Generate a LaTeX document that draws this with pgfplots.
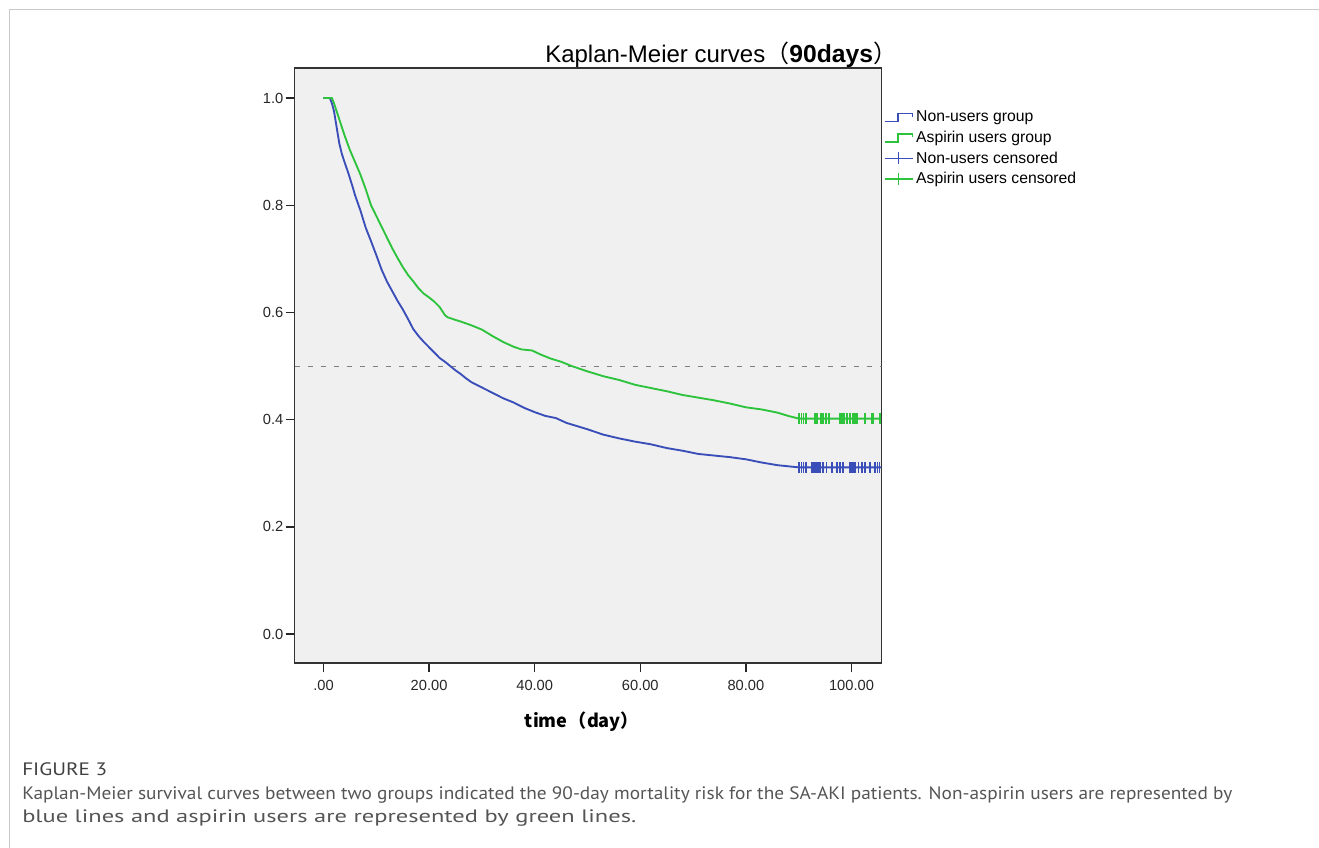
\documentclass[border=0pt]{standalone}
\usepackage{fontspec}
\setmainfont{Liberation Sans}
\newfontfamily\cjk{Noto Sans CJK SC}
\newfontfamily\capfont{PT Sans}
\usepackage{graphicx}
\usepackage{pgfplots}
\pgfplotsset{compat=1.18}
\definecolor{kmblue}{RGB}{58,78,185}
\definecolor{kmgreen}{RGB}{45,195,60}
\definecolor{plotbg}{RGB}{240,240,240}
\definecolor{framegray}{RGB}{200,200,200}
\definecolor{capgray}{RGB}{85,85,85}
\definecolor{dashgray}{RGB}{128,128,128}

\pgfplotstableread{
t S
0 1.0
1.2 1.0
1.6 0.99
2.0 0.975
2.5 0.945
3.0 0.915
3.5 0.895
4.0 0.88
4.7 0.86
5.5 0.835
6.0 0.818
7.0 0.79
8.0 0.758
9.0 0.733
10.0 0.707
11.0 0.68
12.0 0.658
13.0 0.64
14.0 0.622
15.0 0.606
16.0 0.588
17.0 0.569
18.0 0.556
19.0 0.545
20.0 0.535
21.0 0.525
22.0 0.515
23.0 0.508
24.0 0.5
25.0 0.492
26.0 0.485
27.0 0.477
28.0 0.47
30.0 0.46
32.0 0.45
34.0 0.44
36.0 0.432
38.0 0.422
40.0 0.414
42.0 0.407
44.0 0.403
46.0 0.394
48.0 0.388
50.0 0.382
53.0 0.372
56.0 0.365
59.0 0.359
62.0 0.354
65.0 0.347
68.0 0.342
71.0 0.336
74.0 0.333
77.0 0.33
80.0 0.326
83.0 0.32
86.0 0.315
88.0 0.313
90.0 0.311
105.6 0.311
}\nonusers

\pgfplotstableread{
t S
0 1.0
1.6 1.0
2.0 0.99
3.0 0.96
4.0 0.93
5.0 0.903
6.0 0.88
7.0 0.857
8.0 0.83
9.0 0.80
10.0 0.78
11.0 0.76
12.0 0.74
13.0 0.72
14.0 0.702
15.0 0.685
16.0 0.67
17.0 0.658
18.0 0.645
19.0 0.635
20.0 0.628
21.0 0.62
22.0 0.61
23.0 0.595
23.5 0.591
25.0 0.586
26.0 0.583
28.0 0.576
30.0 0.568
32.0 0.556
34.0 0.545
36.0 0.536
37.5 0.531
39.5 0.529
41.0 0.522
43.0 0.514
45.0 0.508
47.0 0.50
50.0 0.49
53.0 0.481
56.0 0.474
59.0 0.465
62.0 0.459
65.0 0.453
68.0 0.446
71.0 0.441
74.0 0.436
77.0 0.43
80.0 0.423
83.0 0.419
86.0 0.413
88.0 0.407
90.0 0.402
105.6 0.402
}\aspirin

\pgfplotstableread{
t S
90.1 0.311
90.5 0.311
90.9 0.311
91.4 0.311
92.5 0.311
92.9 0.311
93.3 0.311
93.7 0.311
94.0 0.311
94.6 0.311
95.3 0.311
96.3 0.311
97.2 0.311
97.8 0.311
98.4 0.311
99.7 0.311
100.0 0.311
100.3 0.311
100.7 0.311
101.3 0.311
102.0 0.311
102.6 0.311
103.5 0.311
104.5 0.311
104.9 0.311
105.3 0.311
}\nonuserscens

\pgfplotstableread{
t S
90.1 0.402
90.5 0.402
90.9 0.402
91.4 0.402
93.1 0.402
93.5 0.402
94.2 0.402
94.6 0.402
95.2 0.402
95.7 0.402
97.8 0.402
98.2 0.402
98.6 0.402
99.2 0.402
99.7 0.402
100.3 0.402
100.7 0.402
101.0 0.402
102.6 0.402
103.9 0.402
104.1 0.402
105.4 0.402
}\aspirincens

\newlength\capw
\newcommand\capone{Kaplan-Meier survival curves between two groups indicated the 90-day mortality risk for the SA-AKI patients. Non-aspirin users are represented by}
\newcommand\captwo{blue lines and aspirin users are represented by green lines.}
\newcommand\capsize{\capfont\fontsize{13.5}{16}\selectfont}

\begin{document}
\settowidth\capw{\capsize\capone}%
\pgfmathsetmacro\capf{907.5/\capw}%
\begin{tikzpicture}
\path[use as bounding box] (0,0) rectangle (989.25pt,-636pt);
\draw[framegray, line width=1.1pt] (7.1pt,-640pt) -- (7.1pt,-7.1pt) -- (995pt,-7.1pt);
\begin{axis}[
  at={(220.95pt,-497.25pt)}, anchor=south west,
  scale only axis, width=440.25pt, height=446.25pt,
  xmin=-5.47, xmax=105.7, ymin=-0.054, ymax=1.056,
  axis background/.style={fill=plotbg},
  axis line style={line width=1.1pt, draw=black!80},
  xtick={0,20,40,60,80,100},
  xticklabels={.00,20.00,40.00,60.00,80.00,100.00},
  ytick={0,0.2,0.4,0.6,0.8,1.0},
  yticklabels={0.0,0.2,0.4,0.6,0.8,1.0},
  tick align=outside, tick pos=left, major tick length=6.75pt,
  tick style={line width=1pt, black!85},
  ticklabel style={font=\fontsize{11}{13}\selectfont, text=black!85},
  yticklabel style={inner xsep=1.5pt},
  xticklabel style={yshift=-3pt},
  /pgf/number format/assume math mode=true,
  legend style={at={(0.997,0.937)}, anchor=north west, draw=none, fill=none,
    font=\fontsize{11.8}{13}\selectfont, row sep=1.4pt},
  legend cell align=left,
]
\addplot[forget plot, dashgray, line width=0.8pt, dash pattern=on 3.75pt off 6pt]
  coordinates {(-5.47,0.5) (105.7,0.5)};
\addplot[kmblue, line width=1.4pt,
  legend image code/.code={\draw[draw=kmblue, line width=1.05pt] (0pt,-3.2pt) -- (9.75pt,-3.2pt) -- (9.75pt,3pt) -- (20.8pt,3pt) -- (20.8pt,0.3pt);}]
  table[x=t, y=S] {\nonusers};
\addlegendentry{Non-users group}
\addplot[kmgreen, line width=1.4pt,
  legend image code/.code={\draw[draw=kmgreen, line width=1.05pt] (0pt,-3.2pt) -- (9.75pt,-3.2pt) -- (9.75pt,3pt) -- (20.8pt,3pt) -- (20.8pt,0.3pt);}]
  table[x=t, y=S] {\aspirin};
\addlegendentry{Aspirin users group}
\addplot[kmblue, only marks, mark=|, mark size=4pt, mark options={line width=1.2pt},
  legend image code/.code={\draw[draw=kmblue, line width=1pt] (0pt,0pt) -- (21pt,0pt); \draw[draw=kmblue, line width=1pt] (10.5pt,-4.5pt) -- (10.5pt,4.5pt);}]
  table[x=t, y=S] {\nonuserscens};
\addlegendentry{Non-users censored}
\addplot[kmgreen, only marks, mark=|, mark size=4pt, mark options={line width=1.2pt},
  legend image code/.code={\draw[draw=kmgreen, line width=1pt] (0pt,0pt) -- (21pt,0pt); \draw[draw=kmgreen, line width=1pt] (10.5pt,-4.5pt) -- (10.5pt,4.5pt);}]
  table[x=t, y=S] {\aspirincens};
\addlegendentry{Aspirin users censored}
\end{axis}
\begin{scope}[x=0.75pt, y=-0.75pt]
\node[anchor=base west, inner sep=0pt] at (545,63)
  {\fontsize{18}{20}\selectfont Kaplan-Meier curves{\cjk （}{\fontsize{18.5}{20}\selectfont\bfseries 90days}{\cjk ）}};
\node[anchor=base, inner sep=0pt] at (582,727)
  {\cjk\bfseries\fontsize{13.6}{15}\selectfont time\hspace{1pt}（day）};
\node[anchor=base west, inner sep=0pt, text=black!75] at (22,775)
  {\resizebox{63.75pt}{\height}{\capfont\fontsize{13.5}{16}\selectfont FIGURE 3}};
\node[anchor=base west, inner sep=0pt, text=capgray] at (22,799)
  {\scalebox{\capf}[1]{\capsize\capone}};
\node[anchor=base west, inner sep=0pt, text=capgray] at (22,822)
  {\resizebox{460.5pt}{\height}{\capsize\captwo}};
\end{scope}
\end{tikzpicture}
\end{document}
